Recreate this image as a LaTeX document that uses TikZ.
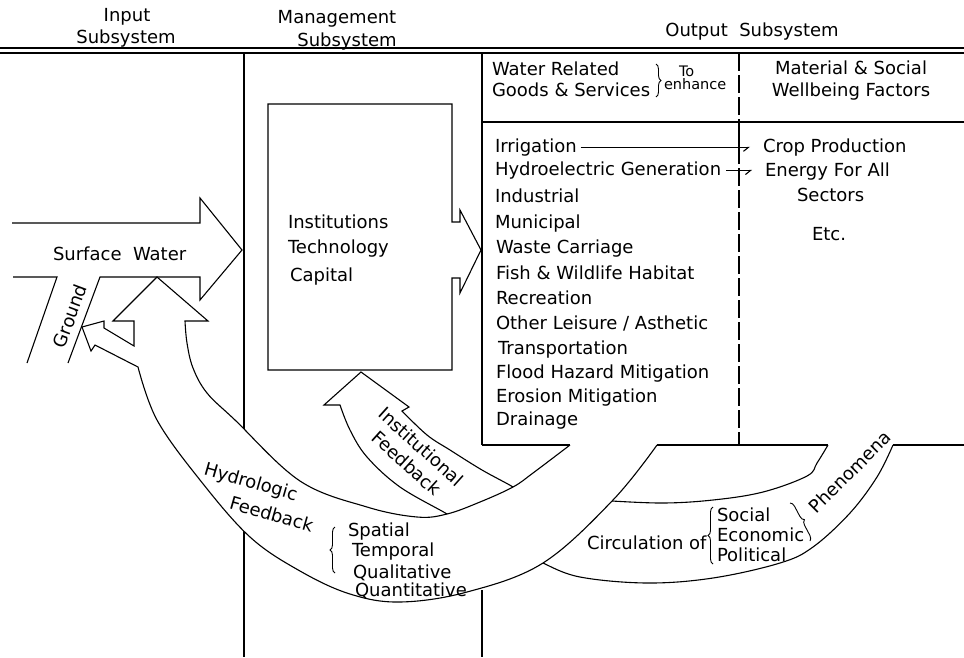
\documentclass[tikz,border=0pt]{standalone}
\usepackage{fontspec}
\setmainfont{DejaVu Sans}
\usetikzlibrary{arrows.meta,decorations.pathreplacing}
\begin{document}
\begin{tikzpicture}[x=1pt,y=-1pt,line width=1.1pt,line join=miter,
  every node/.style={inner sep=0pt,outer sep=0pt},
  lbl/.style={anchor=base west,font=\fontsize{18}{21}\selectfont},
  clbl/.style={anchor=base,font=\fontsize{18}{21}\selectfont},
  rlbl/.style={anchor=center,font=\fontsize{18}{21}\selectfont},
  small/.style={anchor=base west,font=\fontsize{14.5}{16}\selectfont},
  dashline/.style={dash pattern=on 18pt off 4pt},
  brc/.style={decorate,decoration={brace,amplitude=5pt},line width=0.9pt},
  harp/.style={-{Straight Barb[harpoon,swap,length=5pt,width=8pt]}}]
\useasboundingbox (0,0) rectangle (964,657);
\fill[white] (0,0) rectangle (964,657);

% headings
\node[clbl] (hin1) at (127,21) {Input};
\node[clbl] (hin2) at (126,43) {Subsystem};
\node[clbl] (hm1) at (337,23) {Management};
\node[clbl] (hm2) at (347,46.5) {Subsystem};
\node[clbl] (hout) at (752,36.5) {Output\ \ Subsystem};

% frame lines
\draw (0,48) -- (964,48);
\draw (0,53) -- (964,53);
\draw (244,53) -- (244,657);
\draw (482,53) -- (482,445);
\draw (482,590) -- (482,657);
\draw (482,122) -- (964,122);
\draw[dashline] (739,53) -- (739,122);
\draw (739,122) -- (739,146);
\draw[dashline] (739,146) -- (739,445);
\draw (482,445) -- (570,445);
\draw (657,445) -- (828,445);
\draw (893,445) -- (964,445);

% output header
\node[lbl] (wr) at (492,75) {Water Related};
\node[lbl] (gs) at (492,96.7) {Goods \& Services};
\draw[brc] (656,64) -- (656,97);
\node[small] (to) at (679,76.5) {To};
\node[small] (enh) at (664,89) {enhance};
\node[clbl] (ms) at (851,74) {Material \& Social};
\node[clbl] (wf) at (851,96.7) {Wellbeing Factors};

% list
\node[lbl] (irr) at (495,152.3) {Irrigation};
\node[lbl] (hyd) at (495,175.5) {Hydroelectric Generation};
\node[lbl] (ind) at (495,202.7) {Industrial};
\node[lbl] (mun) at (495,228.3) {Municipal};
\node[lbl] (was) at (496,253.3) {Waste Carriage};
\node[lbl] (fis) at (496,279.5) {Fish \& Wildlife Habitat};
\node[lbl] (rec) at (496,304.5) {Recreation};
\node[lbl] (oth) at (496,329.3) {Other Leisure / Asthetic};
\node[lbl] (tra) at (498,354.5) {Transportation};
\node[lbl] (flo) at (496,378.3) {Flood Hazard Mitigation};
\node[lbl] (ero) at (496,402.7) {Erosion Mitigation};
\node[lbl] (dra) at (496,425.5) {Drainage};

\node[lbl] (crop) at (763,152.3) {Crop Production};
\node[lbl] (ene) at (765,176) {Energy For All};
\node[lbl] (sec) at (797,201.7) {Sectors};
\node[lbl] (etc) at (812,240) {Etc.};
\draw[harp] ([xshift=4pt]irr.east) -- ([xshift=-13pt]irr.east -| crop.west);
\draw[harp] ([xshift=5pt]hyd.east) -- ([xshift=-13pt]hyd.east -| ene.west);

% institutions box with outlet arrow
\draw (452,222) -- (452,104) -- (268,104) -- (268,370) -- (452,370) -- (452,278)
  -- (460,278) -- (460,293) -- (481,250) -- (460,210) -- (460,222) -- cycle;
\node[lbl] (ins) at (288,228.3) {Institutions};
\node[lbl] (tec) at (288,253.3) {Technology};
\node[lbl] (cap) at (290,281.7) {Capital};

% surface water arrow and ground channel
\draw (12,223) -- (200,223) -- (200,198) -- (242,250) -- (200,300) -- (200,277)
  -- (100,277) -- (68,363);
\draw (13,277) -- (57,277) -- (27,363);
\node[lbl] (sw) at (53,260) {Surface\ \ Water};
\node[rlbl,rotate=69.6] (gr) at (70,316) {Ground};

% circulation / institutional feedback band
\draw[fill=white] plot[smooth,tension=0.6] coordinates {(828,445) (817,463) (807,476) (763,492) (713,500) (660,503) (596,500)}
  -- plot[smooth,tension=0.6] coordinates {(522,495) (513,487) (482,470) (450,450) (427,435) (402,411)}
  -- (409,407) -- (361,372) -- (324,405) -- (340,405)
  -- plot[smooth,tension=0.6] coordinates {(340,405) (350,430) (367,457) (400,487) (447,514) (455,521)}
  -- plot[smooth,tension=0.6] coordinates {(535,557) (543,563) (580,577) (647,583) (713,578) (780,563) (813,547) (850,513) (877,477) (893,445)};

% hydrologic feedback band
\draw[fill=white] plot[smooth,tension=0.6] coordinates {(657,445) (613,500) (543,563) (467,592) (400,602) (350,594) (300,571) (250,537) (200,480) (157,420) (138,367)}
  -- (95,345) -- (91,351) -- (82,327) -- (104,321) -- (104,328) -- (134,346)
  -- (134,321) -- (113,321) -- (157,277) -- (208,321) -- (185,321)
  -- plot[smooth,tension=0.6] coordinates {(185,321) (187,343) (193,368) (207,393) (235,420) (300,481) (367,507) (417,517) (447,514) (480,502) (513,487) (533,473) (570,445)};

% band texts
\node[rlbl,rotate=-16,align=left,font=\fontsize{18}{26}\selectfont] (hl) at (259,497) {Hydrologic\\\hspace*{34pt}Feedback};
\draw[brc] (335,573) -- (335,527);
\node[lbl] (spa) at (348,536) {Spatial};
\node[lbl] (tem) at (352,556.7) {Temporal};
\node[lbl] (qul) at (353,578.3) {Qualitative};
\node[lbl] (qun) at (355,596.7) {Quantitative};

\node[rlbl,rotate=-42,align=center,font=\fontsize{18}{22}\selectfont] (inl) at (414,455) {Institutional\\Feedback};

\node[lbl] (cir) at (587,549.3) {Circulation of};
\draw[brc] (713,564) -- (713,507);
\node[lbl] (soc) at (717,521.7) {Social};
\node[lbl] (eco) at (717,541.7) {Economic};
\node[lbl] (pol) at (717,561.7) {Political};
\draw[brc] (790,503) -- (810,541);
\node[rlbl,rotate=45] (phe) at (850,472) {Phenomena};
\end{tikzpicture}
\end{document}
